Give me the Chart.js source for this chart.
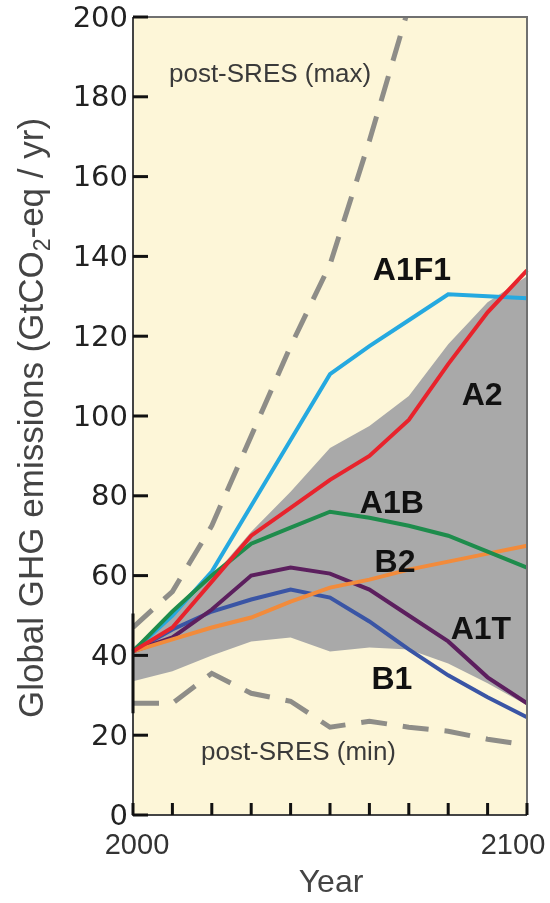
<!DOCTYPE html>
<html>
<head>
<meta charset="utf-8">
<script src="https://cdn.jsdelivr.net/npm/chart.js@4.4.1/dist/chart.umd.min.js"></script>
<style>
  html, body { margin: 0; padding: 0; background: #fff; }
  canvas { display: block; }
</style>
</head>
<body>
<canvas id="ghgChart" width="550" height="903"></canvas>
<script>
// years on the x axis
const years = [2000, 2010, 2020, 2030, 2040, 2050, 2060, 2070, 2080, 2090, 2100];

// SRES marker scenarios (GtCO2-eq / yr)
const a1fi = [41, 50, 61, 77.5, 94, 110.5, 117.5, 124, 130.5, 130, 129.5];
const a2   = [41, 47, 58.5, 70, 77, 84, 90, 99, 113, 126, 136.5];
const a1b  = [41, 51, 60, 68, 72, 76, 74.5, 72.5, 70, 66, 62];
const b2   = [41, 44, 47, 49.5, 53.5, 57, 59, 61.5, 63.5, 65.5, 67.5];
const a1t  = [41, 44.5, 51.5, 60, 62, 60.5, 56.5, 50, 43.5, 34.5, 28];
const b1   = [41, 46.5, 51, 54, 56.5, 54.5, 48.5, 41.5, 35, 29.5, 24.5];

// post-SRES range and the grey SRES band
const postMax  = [47, 56, 72.5, 95, 117.5, 138, 169, 202.5, null, null, null];
const postMin  = [28, 28, 35.5, 30.5, 28.5, 22, 23.5, 22, 21, 19, 17.5];
const bandHigh = [42, 50, 59.5, 71, 81, 92, 97.5, 105, 118, 128.5, 135];
const bandLow  = [33.5, 36, 40, 43.5, 44.5, 41, 42, 41.5, 38, 33, 27.5];

// axis ticks
const yTicks = [0, 20, 40, 60, 80, 100, 120, 140, 160, 180, 200];
const xLabelYears = [2000, 2100];

function line(data, color, extra) {
    return Object.assign({
        data: data,
        borderColor: color,
        borderWidth: 4,
        pointRadius: 0,
        fill: false,
        tension: 0
    }, extra || {});
}

const figurePlugin = {
    id: "figure",
    beforeDraw(chart) {
        const { ctx, chartArea: a } = chart;
        ctx.save();
        ctx.fillStyle = "#fdf6d8";
        ctx.fillRect(a.left, a.top, a.right - a.left, a.bottom - a.top);
        ctx.restore();
    },
    afterDatasetsDraw(chart) {
        const { ctx, chartArea: a, scales } = chart;
        const x = scales.x, y = scales.y;
        const px = yr => x.getPixelForValue((yr - years[0]) / 10);
        ctx.save();

        // frame
        ctx.lineWidth = 2;
        ctx.strokeStyle = "#707070";
        ctx.beginPath();
        ctx.moveTo(a.left, a.top);
        ctx.lineTo(a.right, a.top);
        ctx.lineTo(a.right, a.bottom);
        ctx.stroke();
        ctx.strokeStyle = "#444";
        ctx.beginPath();
        ctx.moveTo(a.left, a.top);
        ctx.lineTo(a.left, a.bottom);
        ctx.lineTo(a.right, a.bottom);
        ctx.stroke();

        // range bar at 2000
        ctx.strokeStyle = "#111";
        ctx.lineWidth = 3;
        ctx.beginPath();
        ctx.moveTo(a.left, y.getPixelForValue(25.5));
        ctx.lineTo(a.left, y.getPixelForValue(50.5));
        ctx.stroke();

        // inward tick marks
        ctx.lineWidth = 3;
        ctx.strokeStyle = "#111";
        yTicks.forEach(v => {
            const py = y.getPixelForValue(v);
            ctx.beginPath();
            ctx.moveTo(a.left, py);
            ctx.lineTo(a.left + 15, py);
            ctx.stroke();
        });
        years.forEach(yr => {
            const p = px(yr);
            ctx.beginPath();
            ctx.moveTo(p, a.bottom);
            ctx.lineTo(p, a.bottom - 12);
            ctx.stroke();
        });

        // tick labels
        ctx.fillStyle = "#222";
        ctx.font = "29px 'DejaVu Sans'";
        ctx.textAlign = "right";
        ctx.textBaseline = "middle";
        yTicks.forEach(v => ctx.fillText(String(v), a.left - 5, y.getPixelForValue(v) + 2));

        ctx.fillStyle = "#333";
        ctx.font = "29px 'Liberation Sans', Arial";
        ctx.textAlign = "center";
        ctx.fillText(String(xLabelYears[0]), px(xLabelYears[0]) + 4, a.bottom + 31);
        ctx.fillText(String(xLabelYears[1]), px(xLabelYears[1]) - 14, a.bottom + 31);

        // axis titles
        ctx.fillStyle = "#444";
        ctx.font = "32px 'Liberation Sans', Arial";
        ctx.fillText("Year", (a.left + a.right) / 2 + 1, a.bottom + 68);

        ctx.save();
        ctx.translate(43, (a.top + a.bottom) / 2 + 2);
        ctx.rotate(-Math.PI / 2);
        ctx.textAlign = "left";
        ctx.textBaseline = "alphabetic";
        const big = "35px 'Liberation Sans', Arial", small = "23px 'Liberation Sans', Arial";
        const parts = [["Global GHG emissions (GtCO", big, 0], ["2", small, 7], ["-eq / yr)", big, 0]];
        let total = 0;
        parts.forEach(p => { ctx.font = p[1]; total += ctx.measureText(p[0]).width; });
        let cx = -total / 2;
        parts.forEach(p => {
            ctx.font = p[1];
            ctx.fillText(p[0], cx, p[2]);
            cx += ctx.measureText(p[0]).width;
        });
        ctx.restore();

        // in-plot labels
        ctx.textAlign = "center";
        ctx.textBaseline = "middle";
        ctx.fillStyle = "#3a3a3a";
        ctx.font = "26px 'Liberation Sans', Arial";
        ctx.fillText("post-SRES (max)", px(2034.8), y.getPixelForValue(185.5));
        ctx.fillText("post-SRES (min)", px(2042), y.getPixelForValue(15.5));

        ctx.fillStyle = "#111";
        ctx.font = "bold 32px 'Liberation Sans', Arial";
        [["A1F1", 2070.8, 136.4], ["A2", 2088.6, 105], ["A1B", 2065.7, 78],
         ["B2", 2066.5, 63], ["A1T", 2088.3, 46.3], ["B1", 2065.7, 33.8]].forEach(l => {
            ctx.fillText(l[0], px(l[1]), y.getPixelForValue(l[2]));
        });
        ctx.restore();
    }
};

const ctx = document.getElementById("ghgChart").getContext("2d");
new Chart(ctx, {
    type: "line",
    data: {
        labels: years,
        datasets: [
            line(a2, "#e8232c"),
            line(a1b, "#1e8c4c"),
            line(a1fi, "#25a9e0"),
            line(b2, "#f28b3b"),
            line(a1t, "#5c1f5e"),
            line(b1, "#3a55a5"),
            line(postMax, "#8e8d88", { borderWidth: 5, borderDash: [26, 16], clip: 0, order: 2 }),
            line(postMin, "#8e8d88", { borderWidth: 5, borderDash: [26, 16], order: 2 }),
            line(bandHigh, "rgba(0,0,0,0)", { borderWidth: 0, fill: "+1", backgroundColor: "#a9a9a9", order: 5 }),
            line(bandLow, "rgba(0,0,0,0)", { borderWidth: 0, order: 5 })
        ]
    },
    options: {
        responsive: false,
        animation: false,
        devicePixelRatio: 1,
        layout: { padding: { left: 133, right: 23, top: 17, bottom: 88 } },
        plugins: { legend: { display: false }, tooltip: { enabled: false } },
        scales: {
            x: { display: false },
            y: { display: false, min: 0, max: 200 }
        }
    },
    plugins: [figurePlugin]
});
</script>
</body>
</html>
